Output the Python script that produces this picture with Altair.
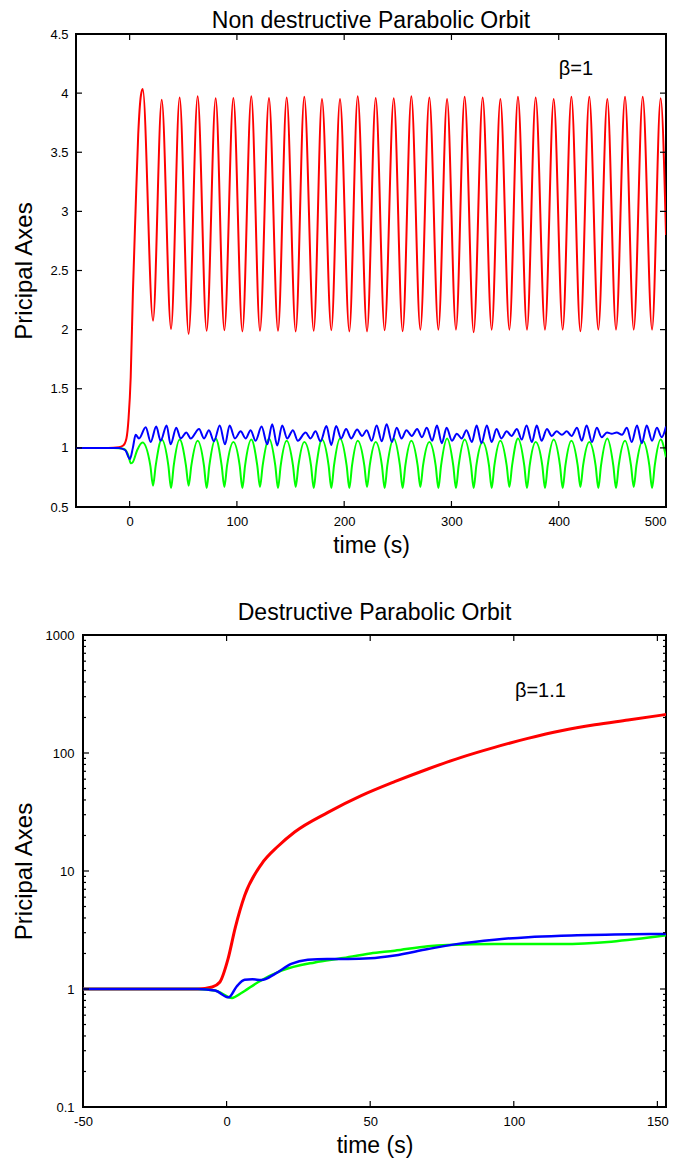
import altair as alt
import pandas as pd

FONT = "Liberation Sans, Arial, sans-serif"

# ---------------- top panel (beta = 1) ----------------
TOP_RED_T = [-50, -20, -10, -6, -3, -1, 1, 3, 5.5, 8, 10.5, 12.2,
             21.8, 29.9, 38.6, 46.6, 55.0, 63.4, 71.8, 80.2, 88.3, 96.7,
             105.1, 113.4, 121.5, 129.9, 138.3, 146.4, 154.8, 162.8, 171.6, 179.3,
             188.0, 196.1, 204.8, 212.6, 221.3, 229.4, 237.7, 246.2, 254.5, 262.6,
             271.0, 279.4, 287.8, 295.9, 304.2, 312.3, 320.7, 329.1, 337.5, 345.6,
             354.0, 362.0, 370.4, 378.5, 387.2, 395.3, 403.7, 411.8, 420.2, 428.5,
             436.9, 445.3, 453.4, 461.8, 469.9, 478.3, 487.0, 495.0, 500.0]
TOP_RED_V = [1.0, 1.0, 1.005, 1.02, 1.08, 1.25, 1.6, 2.3, 3.0, 3.65, 3.98, 4.035,
             2.076, 3.945, 2.006, 3.962, 1.964, 3.973, 1.990, 3.956, 1.995, 3.958,
             1.985, 3.973, 1.990, 3.958, 1.990, 3.962, 1.985, 3.970, 1.990, 3.951,
             1.995, 3.951, 1.985, 3.973, 1.985, 3.958, 1.995, 3.956, 1.986, 3.973,
             2.000, 3.962, 2.000, 3.951, 2.000, 3.970, 1.978, 3.962, 2.000, 3.951,
             2.000, 3.970, 2.000, 3.962, 2.000, 3.951, 2.000, 3.970, 1.986, 3.970,
             2.000, 3.951, 2.000, 3.970, 2.000, 3.970, 2.000, 3.956, 2.80]

GREEN_DIP_T = [21.8, 38.6, 55.0, 71.8, 88.3, 105.1, 121.5, 138.3, 154.8, 171.6,
               188.0, 204.8, 221.3, 237.7, 254.5, 271.0, 287.8, 304.2, 320.7, 337.5,
               354.0, 370.4, 387.2, 403.7, 420.2, 436.9, 453.4, 469.9, 487.0]
GREEN_DIP_V = [0.68, 0.66, 0.68, 0.66, 0.67, 0.66, 0.67, 0.66, 0.67, 0.66,
               0.66, 0.66, 0.67, 0.66, 0.66, 0.67, 0.66, 0.66, 0.66, 0.66,
               0.67, 0.66, 0.66, 0.66, 0.67, 0.66, 0.66, 0.67, 0.66]
GREEN_HUMP_T = [29.9, 46.6, 63.4, 80.2, 96.7, 113.4, 129.9, 146.4, 162.8, 179.3,
                196.1, 212.6, 229.4, 246.2, 262.6, 279.4, 295.9, 312.3, 329.1, 345.6,
                362.0, 378.5, 395.3, 411.8, 428.5, 445.3, 461.8, 478.3, 495.0]
GREEN_HUMP_V = [1.07, 1.07, 1.06, 1.08, 1.05, 1.07, 1.08, 1.06, 1.05, 1.07,
                1.08, 1.06, 1.05, 1.08, 1.06, 1.05, 1.08, 1.07, 1.05, 1.06,
                1.08, 1.05, 1.07, 1.06, 1.05, 1.08, 1.06, 1.06, 1.07]
GREEN_FLANK_V = 0.85  # value about 2.5 s either side of each dip
GREEN_START_T = [-50, -15, -5, -1, 1, 3, 7, 12]
GREEN_START_V = [1.0, 1.0, 0.99, 0.93, 0.87, 0.88, 0.98, 1.045]
GREEN_END_T = [500]
GREEN_END_V = [0.92]

BLUE_T = [-50, -10, -4, 0.2, 3, 5.6, 8.7, 15, 19.6, 24.8, 28.9, 34.5, 38.2,
          43.5, 47.5, 52.9, 56.9, 64.7, 69.3, 73.9, 78.6, 84.0, 88.9, 93.2,
          98.2, 103.5, 108.1, 112.8, 117.4, 123.0, 128.3, 132.9, 137.6, 142.2,
          146.9, 152.2, 156.8, 164.0, 168.6, 173.3, 177.9, 183.5, 187.9, 192.5,
          197.2, 201.8, 206.5, 212.1, 216.7, 221.0, 225.6, 230.3, 235.0, 239.6,
          244.5, 249.0, 253.5, 258.0, 263.0, 268.0, 272.5, 277.0, 282.0, 286.5,
          291.0, 295.5, 300.5, 305.0, 309.5, 314.0, 319.0, 323.5, 328.0, 333.0,
          337.5, 342.0, 346.5, 351.5, 356.0, 361.0, 365.5, 370.0, 375.0, 379.5,
          384.0, 389.0, 393.5, 398.0, 403.0, 407.5, 412.0, 417.0, 421.5, 426.0,
          431.0, 435.5, 440.0, 445.0, 449.5, 454.0, 459.0, 463.5, 468.0, 473.0,
          477.5, 482.0, 487.0, 491.5, 496.0, 500.0]
BLUE_V = [1.0, 1.0, 0.98, 0.905, 1.0, 1.11, 1.08, 1.175, 1.05, 1.18, 1.06, 1.19, 1.03,
          1.17, 1.08, 1.13, 1.08, 1.16, 1.08, 1.15, 1.055, 1.19, 1.03, 1.19,
          1.08, 1.14, 1.08, 1.15, 1.06, 1.18, 1.03, 1.2, 1.02, 1.19,
          1.08, 1.15, 1.06, 1.13, 1.08, 1.14, 1.055, 1.185, 1.025, 1.185,
          1.08, 1.16, 1.08, 1.155, 1.1, 1.15, 1.06, 1.19, 1.055, 1.2,
          1.05, 1.17, 1.08, 1.15, 1.1, 1.16, 1.09, 1.17, 1.06, 1.19,
          1.04, 1.17, 1.06, 1.12, 1.08, 1.15, 1.05, 1.19, 1.04, 1.19,
          1.05, 1.16, 1.08, 1.14, 1.1, 1.16, 1.07, 1.19, 1.05, 1.19,
          1.06, 1.16, 1.1, 1.14, 1.11, 1.14, 1.1, 1.17, 1.06, 1.19,
          1.05, 1.17, 1.09, 1.13, 1.12, 1.13, 1.11, 1.17, 1.05, 1.19,
          1.04, 1.19, 1.06, 1.17, 1.09, 1.18]

TOP_XTICKS = [0, 100, 200, 300, 400, 500]
TOP_YTICKS = [0.5, 1, 1.5, 2, 2.5, 3, 3.5, 4, 4.5]
TOP_LABEL = ["β=1"]
TOP_LABEL_T = [400]
TOP_LABEL_V = [4.2]

# ---------------- bottom panel (beta = 1.1) ----------------
BOT_RED_T = [-50, -10, -5, -2.4, 0.5, 3, 6.3, 12.1, 17.9, 23.7, 35.3, 46.9, 58.5,
             70.1, 81.7, 93.3, 104.9, 116.5, 128.2, 139.8, 153]
BOT_RED_V = [1.0, 1.0, 1.04, 1.14, 1.8, 3.3, 6.2, 11.4, 16.2, 21.4, 31.4, 43.5, 57.1,
             73.2, 91.9, 111.7, 133, 154.5, 173.7, 190.4, 212]
BOT_BLUE_T = [-50, -10, -4, 0.7, 3.5, 6.3, 9, 12.1, 17, 22.5, 28.3, 35, 42.3, 50,
              58.5, 70.1, 80, 93.3, 105, 116.5, 135, 153]
BOT_BLUE_V = [1.0, 1.0, 0.97, 0.85, 1.05, 1.2, 1.21, 1.19, 1.35, 1.63, 1.77, 1.8, 1.8,
              1.82, 1.92, 2.18, 2.4, 2.62, 2.75, 2.83, 2.9, 2.93]
BOT_GREEN_T = [-50, -10, -4, 1.9, 5, 10.9, 19.1, 30.7, 39.9, 50, 58.5, 70.1, 77.1,
               93.3, 116.5, 134, 153]
BOT_GREEN_V = [1.0, 1.0, 0.97, 0.84, 0.92, 1.14, 1.43, 1.68, 1.82, 2.0, 2.11, 2.3, 2.36,
               2.41, 2.41, 2.52, 2.85]

BOT_XTICKS = [-50, 0, 50, 100, 150]
BOT_YTICKS = [0.1, 1, 10, 100, 1000]
BOT_MINOR = [m * d for d in [0.1, 1, 10, 100] for m in range(2, 10)]
BOT_LABEL = ["β=1.1"]
BOT_LABEL_T = [100.4]
BOT_LABEL_V = [335]

RED, GREEN, BLUE = "#ff0000", "#00ff00", "#0000ff"


def frame(t, v):
    return pd.DataFrame({"t": list(t), "v": list(v)})


def make_axis(values, title, title_size, title_pad, label_pad=8, flush=False):
    return alt.Axis(
        values=values, title=title, labelExpr="'' + datum.value",
        grid=False, ticks=False, domain=False,
        labelFont=FONT, labelFontSize=13, labelColor="black", labelPadding=label_pad,
        labelFlush=flush, labelOverlap=False,
        titleFont=FONT, titleFontSize=title_size, titleFontWeight="normal",
        titleColor="black", titlePadding=title_pad,
    )


class Panel:
    def __init__(self, xs, ys, xaxis, yaxis, W, H):
        self.xs, self.ys, self.xa, self.ya, self.W, self.H = xs, ys, xaxis, yaxis, W, H

    def X(self):
        return alt.X("t:Q", scale=self.xs, axis=self.xa)

    def Y(self):
        return alt.Y("v:Q", scale=self.ys, axis=self.ya)

    def line(self, d, color, width):
        return alt.Chart(d).mark_line(
            color=color, strokeWidth=width, interpolate="monotone", clip=True
        ).encode(x=self.X(), y=self.Y())

    def xticks(self, vals, L):
        d = pd.DataFrame({"t": vals})
        base = alt.Chart(d).mark_rule(color="black", strokeWidth=1.2)
        return [
            base.encode(x=self.X(), y=alt.value(self.H), y2=alt.value(self.H - L)),
            base.encode(x=self.X(), y=alt.value(0), y2=alt.value(L)),
        ]

    def yticks(self, vals, L):
        d = pd.DataFrame({"v": vals})
        base = alt.Chart(d).mark_rule(color="black", strokeWidth=1.2)
        return [
            base.encode(y=self.Y(), x=alt.value(0), x2=alt.value(L)),
            base.encode(y=self.Y(), x=alt.value(self.W), x2=alt.value(self.W - L)),
        ]

    def label(self, txt, t, v):
        d = pd.DataFrame({"t": t, "v": v, "s": txt})
        return alt.Chart(d).mark_text(
            align="left", baseline="middle", font=FONT, fontSize=20, color="black"
        ).encode(x=self.X(), y=self.Y(), text="s:N")


def title(text, offset):
    return alt.TitleParams(text, font=FONT, fontSize=23, fontWeight="normal",
                           color="black", anchor="middle", frame="group", offset=offset)


def spacer():
    # invisible 1-px view: gives both rows the same left anchor
    return alt.Chart(pd.DataFrame({"a": [0]})).mark_rect(opacity=0).encode(
        x=alt.value(0), x2=alt.value(1), y=alt.value(0), y2=alt.value(1)
    ).properties(width=1, height=1, view=alt.ViewBackground(stroke="transparent"))


# ---- top chart ----
W1, H1 = 590, 473
p1 = Panel(
    alt.Scale(domain=[-50, 500], nice=False, zero=False),
    alt.Scale(domain=[0.5, 4.5], nice=False, zero=False),
    make_axis(TOP_XTICKS, "time (s)", 23, 6, flush=True),
    make_axis(TOP_YTICKS, "Pricipal Axes", 24, 13),
    W1, H1,
)

g_t = list(GREEN_START_T) + list(GREEN_DIP_T) + list(GREEN_HUMP_T) + list(GREEN_END_T)
g_v = list(GREEN_START_V) + list(GREEN_DIP_V) + list(GREEN_HUMP_V) + list(GREEN_END_V)
for td in GREEN_DIP_T:
    g_t += [td - 2.5, td + 2.5]
    g_v += [GREEN_FLANK_V, GREEN_FLANK_V]
green_top = frame(g_t, g_v).sort_values("t").drop_duplicates("t")

top_layers = [
    p1.line(frame(TOP_RED_T, TOP_RED_V), RED, 2),
    p1.line(green_top, GREEN, 2),
    p1.line(frame(BLUE_T, BLUE_V), BLUE, 2),
    p1.label(TOP_LABEL, TOP_LABEL_T, TOP_LABEL_V),
] + p1.xticks(TOP_XTICKS, 6) + p1.yticks(TOP_YTICKS, 6)

top = alt.layer(*top_layers).properties(
    width=W1, height=H1, title=title("Non destructive Parabolic Orbit", -5))

# ---- bottom chart ----
W2, H2 = 583, 472
p2 = Panel(
    alt.Scale(domain=[-50, 153], nice=False, zero=False),
    alt.Scale(type="log", domain=[0.1, 1000], nice=False),
    make_axis(BOT_XTICKS, "time (s)", 23, 6),
    make_axis(BOT_YTICKS, "Pricipal Axes", 24, 9, 9),
    W2, H2,
)

bot_layers = [
    p2.line(frame(BOT_RED_T, BOT_RED_V), RED, 3),
    p2.line(frame(BOT_GREEN_T, BOT_GREEN_V), GREEN, 2.5),
    p2.line(frame(BOT_BLUE_T, BOT_BLUE_V), BLUE, 2.5),
    p2.label(BOT_LABEL, BOT_LABEL_T, BOT_LABEL_V),
] + p2.xticks(BOT_XTICKS, 6) + p2.yticks(BOT_YTICKS, 6) + p2.yticks(BOT_MINOR, 3)

bottom = alt.layer(*bot_layers).properties(
    width=W2, height=H2, title=title("Destructive Parabolic Orbit", 4))

chart = alt.ConcatChart(
    concat=[alt.hconcat(spacer(), top, spacing=0), alt.hconcat(spacer(), bottom, spacing=0)],
    columns=1, spacing=43,
    padding={"top": 1, "left": 0, "right": 0, "bottom": 0},
    background="white",
).configure_view(stroke="black", strokeWidth=2)

chart.save("out.html", embed_options={"renderer": "svg", "actions": False})
